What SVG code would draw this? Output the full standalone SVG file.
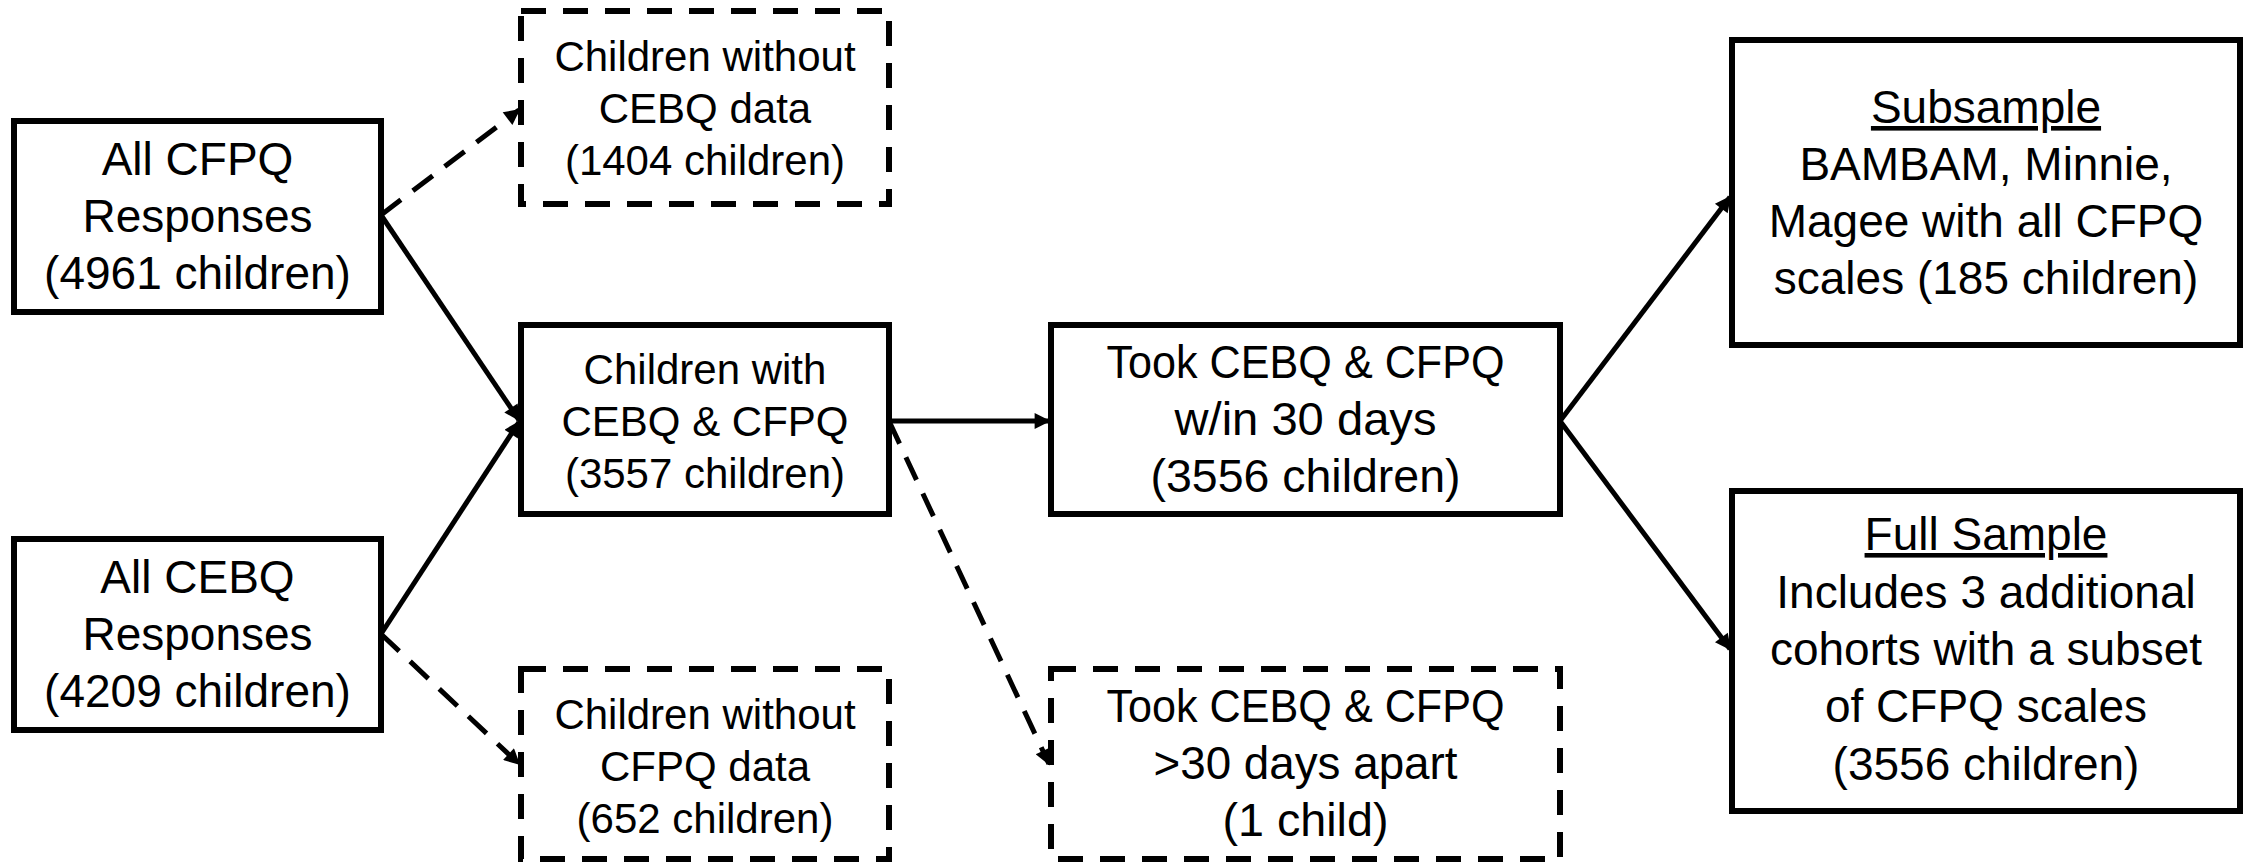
<svg xmlns="http://www.w3.org/2000/svg" width="2252" height="863" viewBox="0 0 2252 863">
<style>
.box{fill:#fff;stroke:#000;stroke-width:6}
.dbox{fill:#fff;stroke:#000;stroke-width:6;stroke-dasharray:25 17}
.t{font-family:"Liberation Sans",Arial,sans-serif;fill:#000;text-anchor:middle}
.l{font-size:46px}
.s{font-size:42px}
.r{font-size:46px}
.c{font-size:47px}
.ln{stroke:#000;stroke-width:5;fill:none}
.dl{stroke:#000;stroke-width:5;fill:none;stroke-dasharray:25 15}
.u{text-decoration:underline}
</style>
<defs>
<marker id="ah" viewBox="0 0 10 10" refX="9" refY="5" markerWidth="18" markerHeight="16" markerUnits="userSpaceOnUse" orient="auto">
<path d="M0,0 L10,5 L0,10 z" fill="#000"/>
</marker>
</defs>
<rect width="2252" height="863" fill="#fff"/>
<g id="connectors">
<line class="dl" x1="381" y1="215" x2="519" y2="110" marker-end="url(#ah)"/>
<line class="ln" x1="381" y1="215" x2="519" y2="420" marker-end="url(#ah)"/>
<line class="ln" x1="381" y1="634" x2="519" y2="422" marker-end="url(#ah)"/>
<line class="dl" x1="381" y1="634" x2="519" y2="764" marker-end="url(#ah)"/>
<line class="ln" x1="889" y1="421" x2="1049" y2="421" marker-end="url(#ah)"/>
<line class="dl" x1="889" y1="421" x2="1049" y2="764" marker-end="url(#ah)"/>
<line class="ln" x1="1560" y1="421" x2="1730" y2="197" marker-end="url(#ah)"/>
<line class="ln" x1="1560" y1="421" x2="1730" y2="649" marker-end="url(#ah)"/>
</g>
<g id="all-cfpq">
<rect class="box" x="14" y="121" width="367" height="191"/>
<text class="t l" x="197.5" y="175">All CFPQ</text>
<text class="t l" x="197.5" y="232">Responses</text>
<text class="t l" x="197.5" y="289">(4961 children)</text>
</g>
<g id="all-cebq">
<rect class="box" x="14" y="539" width="367" height="191"/>
<text class="t l" x="197.5" y="593">All CEBQ</text>
<text class="t l" x="197.5" y="650">Responses</text>
<text class="t l" x="197.5" y="707">(4209 children)</text>
</g>
<g id="no-cebq">
<rect class="dbox" x="521" y="11" width="368" height="193"/>
<text class="t s" x="705" y="71">Children without</text>
<text class="t s" x="705" y="123">CEBQ data</text>
<text class="t s" x="705" y="175">(1404 children)</text>
</g>
<g id="with-both">
<rect class="box" x="521" y="325" width="368" height="189"/>
<text class="t s" x="705" y="384">Children with</text>
<text class="t s" x="705" y="436">CEBQ &amp; CFPQ</text>
<text class="t s" x="705" y="488">(3557 children)</text>
</g>
<g id="no-cfpq">
<rect class="dbox" x="521" y="669" width="368" height="190"/>
<text class="t s" x="705" y="729">Children without</text>
<text class="t s" x="705" y="781">CFPQ data</text>
<text class="t s" x="705" y="833">(652 children)</text>
</g>
<g id="within-30">
<rect class="box" x="1051" y="325" width="509" height="189"/>
<text class="t c" x="1305.5" y="378" textLength="398" lengthAdjust="spacingAndGlyphs">Took CEBQ &amp; CFPQ</text>
<text class="t c" x="1305.5" y="435" textLength="262" lengthAdjust="spacingAndGlyphs">w/in 30 days</text>
<text class="t c" x="1305.5" y="492" textLength="310" lengthAdjust="spacingAndGlyphs">(3556 children)</text>
</g>
<g id="over-30">
<rect class="dbox" x="1051" y="669" width="509" height="190"/>
<text class="t c" x="1305.5" y="722" textLength="398" lengthAdjust="spacingAndGlyphs">Took CEBQ &amp; CFPQ</text>
<text class="t c" x="1305.5" y="779" textLength="304" lengthAdjust="spacingAndGlyphs">&gt;30 days apart</text>
<text class="t c" x="1305.5" y="836" textLength="166" lengthAdjust="spacingAndGlyphs">(1 child)</text>
</g>
<g id="subsample">
<rect class="box" x="1732" y="40" width="508" height="305"/>
<text class="t r u" x="1986" y="123">Subsample</text>
<text class="t r" x="1986" y="180">BAMBAM, Minnie,</text>
<text class="t r" x="1986" y="237">Magee with all CFPQ</text>
<text class="t r" x="1986" y="294">scales (185 children)</text>
</g>
<g id="full-sample">
<rect class="box" x="1732" y="491" width="508" height="320"/>
<text class="t r u" x="1986" y="550">Full Sample</text>
<text class="t r" x="1986" y="608">Includes 3 additional</text>
<text class="t r" x="1986" y="665">cohorts with a subset</text>
<text class="t r" x="1986" y="722">of CFPQ scales</text>
<text class="t r" x="1986" y="780">(3556 children)</text>
</g>
</svg>
